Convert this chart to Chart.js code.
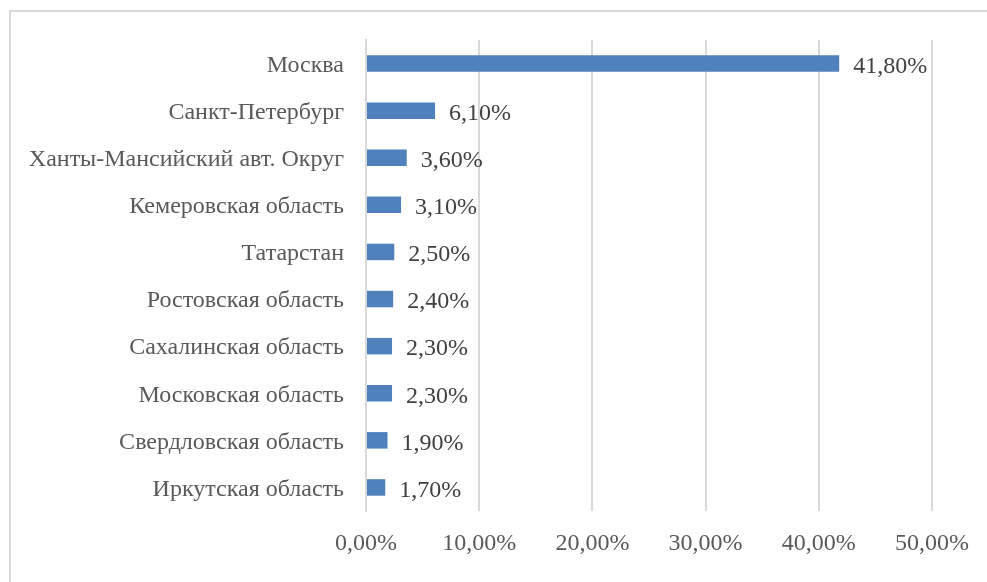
<!DOCTYPE html>
<html>
<head>
<meta charset="utf-8">
<script src="https://cdn.jsdelivr.net/npm/chart.js@4"></script>
<style>
  html, body { margin: 0; padding: 0; background: #fff; }
  #wrap { position: relative; width: 987px; height: 582px; overflow: hidden; }
  #frame { position: absolute; left: 9px; top: 10px; width: 1000px; height: 600px; border: 2px solid #d9d9d9; box-sizing: border-box; }
  canvas { position: absolute; left: 0; top: 0; }
</style>
</head>
<body>
<div id="wrap">
  <div id="frame"></div>
  <canvas id="regionChart" width="987" height="582"></canvas>
</div>
<script>
const regions = [
  "Москва",
  "Санкт-Петербург",
  "Ханты-Мансийский авт. Округ",
  "Кемеровская область",
  "Татарстан",
  "Ростовская область",
  "Сахалинская область",
  "Московская область",
  "Свердловская область",
  "Иркутская область",
];
const shares = [41.8, 6.1, 3.6, 3.1, 2.5, 2.4, 2.3, 2.3, 1.9, 1.7];
const xTicks = [0, 10, 20, 30, 40, 50];

const fmtPct = (v, digits) => v.toFixed(digits).replace(".", ",") + "%";

// labels to the right of each bar
const barLabels = {
  id: "barLabels",
  afterDatasetsDraw(chart) {
    const ctx = chart.ctx;
    const meta = chart.getDatasetMeta(0);
    ctx.save();
    ctx.font = "24px 'Liberation Serif'";
    ctx.fillStyle = "#404040";
    ctx.textAlign = "left";
    ctx.textBaseline = "middle";
    meta.data.forEach((bar, i) => {
      ctx.fillText(fmtPct(shares[i], 2), bar.x + 14, bar.y + 3);
    });
    ctx.restore();
  },
};

let ctx = document.getElementById("regionChart").getContext("2d");
let myChart = new Chart(ctx, {
  type: "bar",
  data: {
    labels: regions,
    datasets: [
      {
        data: shares,
        backgroundColor: "#4f81bd",
        borderWidth: 0,
        barPercentage: 0.7,
        categoryPercentage: 0.5,
      },
    ],
  },
  options: {
    indexAxis: "y",
    responsive: false,
    animation: false,
    layout: { padding: { top: 40, right: 54, left: 0, bottom: 0 } },
    plugins: {
      legend: { display: false },
      tooltip: { enabled: false },
    },
    scales: {
      x: {
        min: 0,
        max: 50,
        afterBuildTicks: (scale) => {
          scale.ticks = xTicks.map((v) => ({ value: v }));
        },
        afterFit: (scale) => {
          scale.height = 71;
        },
        grid: { color: "#d9d9d9", lineWidth: 2, drawTicks: false },
        border: { display: false },
        ticks: {
          padding: 18,
          color: "#595959",
          font: { family: "Liberation Serif", size: 24 },
          callback: (v) => fmtPct(v, 2),
        },
      },
      y: {
        afterFit: (scale) => {
          scale.width = 366;
        },
        grid: { display: false, drawTicks: false },
        border: { display: true, color: "#d9d9d9", width: 2 },
        ticks: {
          padding: 22,
          labelOffset: 2,
          color: "#595959",
          font: { family: "Liberation Serif", size: 24 },
        },
      },
    },
  },
  plugins: [barLabels],
});
</script>
</body>
</html>
